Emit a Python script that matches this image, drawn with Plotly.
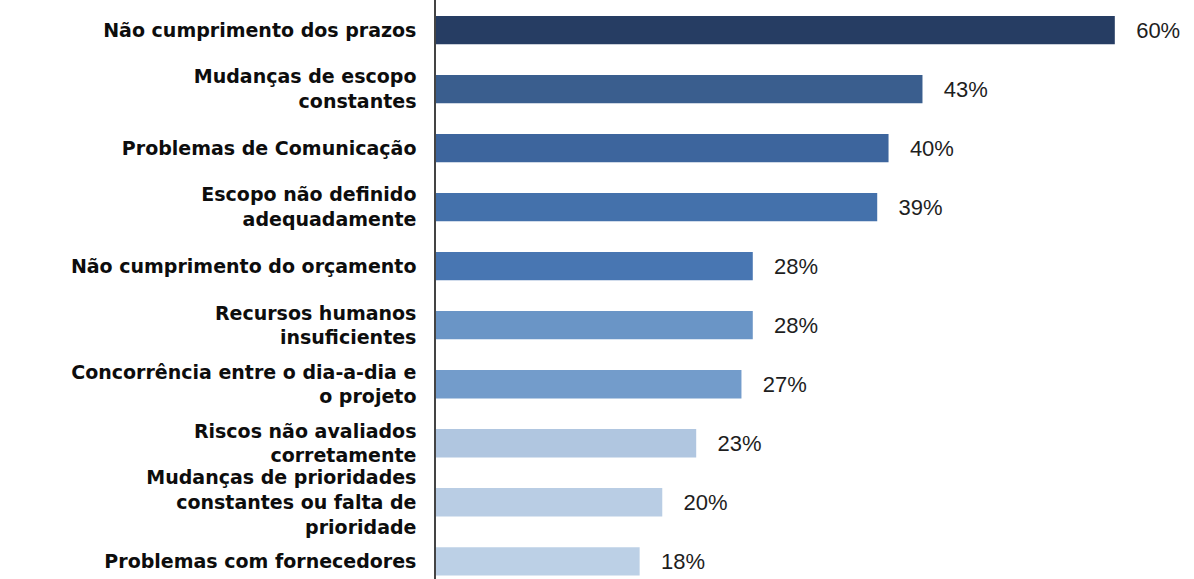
import plotly.graph_objects as go

categories = [
    "Não cumprimento dos prazos",
    "Mudanças de escopo<br>constantes",
    "Problemas de Comunicação",
    "Escopo não definido<br>adequadamente",
    "Não cumprimento do orçamento",
    "Recursos humanos<br>insuficientes",
    "Concorrência entre o dia-a-dia e<br>o projeto",
    "Riscos não avaliados<br>corretamente",
    "Mudanças de prioridades<br>constantes ou falta de<br>prioridade",
    "Problemas com fornecedores",
]
values = [60, 43, 40, 39, 28, 28, 27, 23, 20, 18]
bar_colors = ["#263d63", "#3a5e8e", "#3d659d", "#4471ab", "#4876b2",
              "#6a95c6", "#739ccb", "#b0c6e0", "#b9cde4", "#bcd0e6"]

fig = go.Figure(go.Bar(
    x=values,
    y=categories,
    orientation="h",
    marker=dict(color=bar_colors, line=dict(width=0)),
    width=0.48,
    texttemplate="\u00a0\u00a0\u00a0%{x}%",
    textposition="outside",
    cliponaxis=False,
    textfont=dict(family="Liberation Sans, Arial, sans-serif", size=22, color="#1e1e1e"),
    hoverinfo="skip",
))

fig.update_layout(
    width=1194, height=579,
    margin=dict(l=436, r=0, t=0, b=0),
    paper_bgcolor="white", plot_bgcolor="white",
    showlegend=False,
)
fig.update_xaxes(range=[0, 67], visible=False, showgrid=False, zeroline=False)
fig.update_yaxes(
    type="category",
    range=[9.30, -0.51],
    showgrid=False, zeroline=False,
    showline=True, linecolor="#444444", linewidth=1.5,
    ticks="", ticklabelstandoff=14,
    tickfont=dict(family="DejaVu Sans, sans-serif", size=19, color="#0d0d0d", weight="bold"),
)

fig.write_html("out.html")
